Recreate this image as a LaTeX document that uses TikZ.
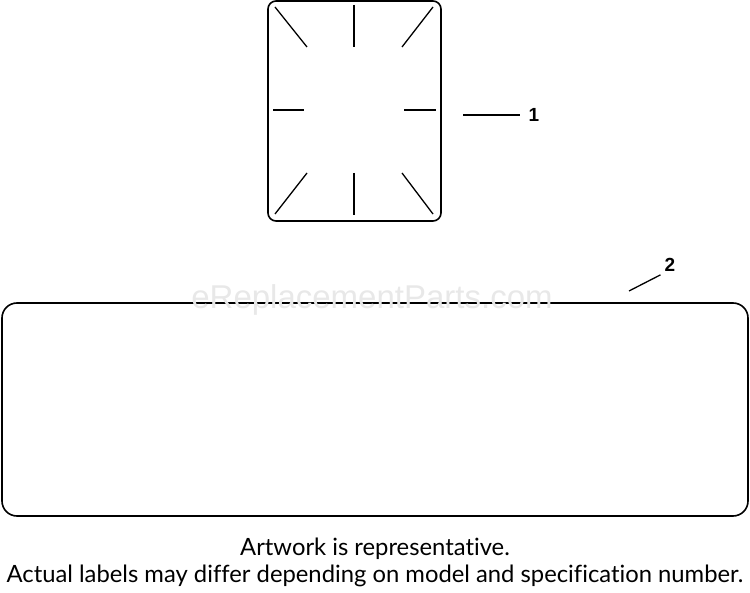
\documentclass[tikz,border=0pt]{standalone}
\usepackage{fontspec}
\setmainfont[Ligatures=NoCommon]{Lato}
\newfontfamily\labelfont{Liberation Sans}
\begin{document}
\begin{tikzpicture}[x=1pt,y=-1pt,
  outline/.style={draw=black, line width=1.6pt},
  tickline/.style={draw=black, line width=1.3pt},
  leader/.style={draw=black, line width=1.3pt},
  callout/.style={font=\labelfont\bfseries\fontsize{19}{19}\selectfont, inner sep=0pt},
  note/.style={font=\fontsize{23.8}{26}\selectfont, inner sep=0pt, anchor=center}]
\useasboundingbox (0,0) rectangle (750,593);
% part 1
\draw[outline, rounded corners=8pt] (268,1) rectangle (441,221);
\draw[tickline] (275,7) -- (307,47);
\draw[tickline] (354,5) -- (354,47);
\draw[tickline] (433,7) -- (402,47);
\draw[tickline] (273,110) -- (304,110);
\draw[tickline] (404,110) -- (436,110);
\draw[tickline] (275,214) -- (307,173);
\draw[tickline] (354,173) -- (354,215);
\draw[tickline] (402,173) -- (433,214);
\node[callout] (l1) at (534,115) {1};
\coordinate (p1) at (463,115);
\draw[leader] (p1) -- ([xshift=-9pt]l1.west);
% part 2
\draw[outline, rounded corners=15pt] (2,303) rectangle (748,516);
\node[font=\labelfont\fontsize{33}{33}\selectfont, text=gray!18] (wm) at (372,300) {eReplacementParts.com};
\node[callout] (l2) at (670,265) {2};
\coordinate (p2) at (629,291);
\draw[leader] (p2) -- ([xshift=-4pt,yshift=-3pt]l2.south west);
% notes
\node[note] (n1) at (375,549) {Artwork is representative.};
\node[note] (n2) at (375,576) {Actual labels may differ depending on model and specification number.};
\end{tikzpicture}
\end{document}
